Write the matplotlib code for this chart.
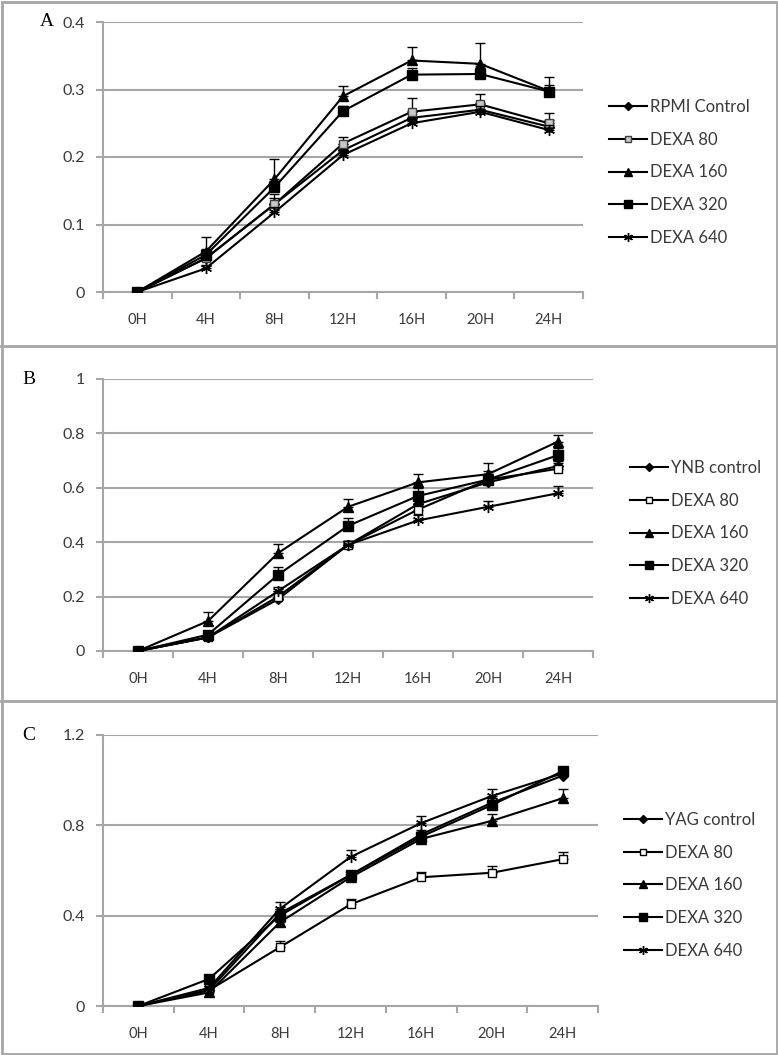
import matplotlib
matplotlib.use("Agg")
import matplotlib.pyplot as plt
from matplotlib.patches import Rectangle
from matplotlib.lines import Line2D
import numpy as np

hours = ["0H", "4H", "8H", "12H", "16H", "20H", "24H"]
series_names = ["DEXA 80", "DEXA 160", "DEXA 320", "DEXA 640"]

# Panel A (RPMI)
a_control = [0, 0.050, 0.130, 0.210, 0.258, 0.270, 0.245]
a_d80 = [0, 0.050, 0.130, 0.220, 0.267, 0.278, 0.250]
a_d160 = [0, 0.060, 0.167, 0.290, 0.343, 0.338, 0.298]
a_d320 = [0, 0.055, 0.155, 0.268, 0.322, 0.323, 0.297]
a_d640 = [0, 0.035, 0.118, 0.203, 0.250, 0.267, 0.240]
a_e_control = [0, 0.008, 0.010, 0.010, 0.010, 0.010, 0.010]
a_e_d80 = [0, 0.010, 0.015, 0.010, 0.020, 0.015, 0.015]
a_e_d160 = [0, 0.022, 0.030, 0.015, 0.020, 0.031, 0.020]
a_e_d320 = [0, 0.008, 0.010, 0.008, 0.010, 0.012, 0.010]
a_e_d640 = [0, 0.005, 0.008, 0.008, 0.008, 0.008, 0.008]

# Panel B (YNB)
b_control = [0, 0.050, 0.190, 0.390, 0.540, 0.620, 0.680]
b_d80 = [0, 0.050, 0.200, 0.390, 0.520, 0.630, 0.670]
b_d160 = [0, 0.110, 0.360, 0.530, 0.620, 0.650, 0.770]
b_d320 = [0, 0.060, 0.280, 0.460, 0.570, 0.630, 0.720]
b_d640 = [0, 0.050, 0.220, 0.390, 0.480, 0.530, 0.580]
b_e_control = [0, 0.010, 0.015, 0.015, 0.020, 0.020, 0.020]
b_e_d80 = [0, 0.010, 0.020, 0.015, 0.020, 0.020, 0.020]
b_e_d160 = [0, 0.035, 0.035, 0.030, 0.030, 0.040, 0.025]
b_e_d320 = [0, 0.010, 0.030, 0.030, 0.030, 0.030, 0.025]
b_e_d640 = [0, 0.010, 0.015, 0.015, 0.020, 0.020, 0.025]

# Panel C (YAG)
c_control = [0, 0.070, 0.410, 0.580, 0.760, 0.900, 1.020]
c_d80 = [0, 0.070, 0.260, 0.450, 0.570, 0.590, 0.650]
c_d160 = [0, 0.060, 0.370, 0.570, 0.740, 0.820, 0.920]
c_d320 = [0, 0.120, 0.400, 0.580, 0.750, 0.890, 1.040]
c_d640 = [0, 0.080, 0.430, 0.660, 0.810, 0.930, 1.030]
c_e_control = [0, 0.010, 0.020, 0.020, 0.020, 0.020, 0.020]
c_e_d80 = [0, 0.010, 0.030, 0.025, 0.025, 0.030, 0.030]
c_e_d160 = [0, 0.010, 0.020, 0.025, 0.030, 0.030, 0.040]
c_e_d320 = [0, 0.010, 0.020, 0.020, 0.020, 0.020, 0.020]
c_e_d640 = [0, 0.010, 0.030, 0.030, 0.030, 0.030, 0.025]

W, H = 778, 1055
fig = plt.figure(figsize=(W / 100, H / 100), dpi=100)
FONT = "Lato"
GRAY = "#a6a6a6"
TXT = "#3a3a3a"

# borders
fig.patches.append(Rectangle((1.5 / W, 1.5 / H), (W - 3) / W, (H - 3) / H,
                             transform=fig.transFigure, fill=False,
                             edgecolor=GRAY, linewidth=2))
for yb in [346, 701]:
    fig.add_artist(Line2D([0, 1], [1 - yb / H, 1 - yb / H], transform=fig.transFigure,
                          color=GRAY, linewidth=2))

star = (6, 2, 0)
styles = [
    dict(marker="D", mfc="black", mec="black", ms=5.5),
    dict(marker="s", mfc="white", mec="black", ms=6),
    dict(marker="^", mfc="black", mec="black", ms=7),
    dict(marker="s", mfc="black", mec="black", ms=7),
    dict(marker=star, mfc="black", mec="black", ms=8, mew=1.0),
]

panels = [
    dict(letter="A", letter_xy=(40, 22), box=(103, 583, 22, 292), ymax=0.4,
         yticks=[0, 0.1, 0.2, 0.3, 0.4], ylabels=["0", "0.1", "0.2", "0.3", "0.4"],
         ctrl="RPMI Control", data=[a_control, a_d80, a_d160, a_d320, a_d640],
         err=[a_e_control, a_e_d80, a_e_d160, a_e_d320, a_e_d640],
         d80fill="#c8c8c8", leg=(609, 104)),
    dict(letter="B", letter_xy=(22, 380), box=(103, 593, 379, 651), ymax=1.0,
         yticks=[0, 0.2, 0.4, 0.6, 0.8, 1.0], ylabels=["0", "0.2", "0.4", "0.6", "0.8", "1"],
         ctrl="YNB control", data=[b_control, b_d80, b_d160, b_d320, b_d640],
         err=[b_e_control, b_e_d80, b_e_d160, b_e_d320, b_e_d640],
         d80fill="white", leg=(630, 465)),
    dict(letter="C", letter_xy=(22, 736), box=(103, 598, 735, 1006), ymax=1.2,
         yticks=[0, 0.4, 0.8, 1.2], ylabels=["0", "0.4", "0.8", "1.2"],
         ctrl="YAG control", data=[c_control, c_d80, c_d160, c_d320, c_d640],
         err=[c_e_control, c_e_d80, c_e_d160, c_e_d320, c_e_d640],
         d80fill="white", leg=(624, 817)),
]

x = np.arange(len(hours))
for p in panels:
    l, r, t, b = p["box"]
    ax = fig.add_axes([l / W, 1 - b / H, (r - l) / W, (b - t) / H])
    ax.set_xlim(-0.5, len(hours) - 0.5)
    ax.set_ylim(0, p["ymax"])
    for s in ["top", "right"]:
        ax.spines[s].set_visible(False)
    for s in ["left", "bottom"]:
        ax.spines[s].set_color(GRAY)
        ax.spines[s].set_linewidth(1.5)
    ax.set_yticks(p["yticks"])
    ax.set_yticklabels(p["ylabels"], fontfamily=FONT, fontsize=11.5, color=TXT)
    ax.yaxis.grid(True, color=GRAY, linewidth=1.5)
    ax.set_axisbelow(True)
    ax.set_xticks(np.arange(len(hours) + 1) - 0.5)
    ax.set_xticklabels([])
    ax.set_xticks(x, minor=True)
    ax.set_xticklabels(hours, minor=True, fontfamily=FONT, fontsize=10.5, color=TXT)
    ax.tick_params(axis="x", which="minor", length=0, pad=15)
    ax.tick_params(axis="both", which="major", length=5, width=1.5, color=GRAY)
    ax.tick_params(axis="y", pad=8)

    labels = [p["ctrl"]] + series_names
    handles = []
    for i, (vals, errs) in enumerate(zip(p["data"], p["err"])):
        st = dict(styles[i])
        if i == 1:
            st["mfc"] = p["d80fill"]
            if p["letter"] == "A":
                st["mec"] = "#404040"
        yerr = [np.zeros(len(errs)), np.array(errs)]
        ax.errorbar(x, vals, yerr=yerr, color="black", lw=1.5, elinewidth=1.0,
                    capsize=3.5, capthick=1.0, zorder=3 + i, **st)
        hs = dict(st)
        hs["ms"] = st["ms"] * 0.8
        handles.append(Line2D([], [], color="black", lw=1.5, **hs))
    ax.text(p["letter_xy"][0] / W, 1 - p["letter_xy"][1] / H, p["letter"],
            transform=fig.transFigure, fontfamily="Liberation Serif", fontsize=14,
            ha="left", va="center", color="black")
    lx, ly = p["leg"]
    fig.legend(handles, labels, loc="upper left",
               bbox_to_anchor=(lx / W, 1 - (ly - 5) / H),
               frameon=False, prop=dict(family=FONT, size=12),
               labelcolor=TXT, handlelength=2.25, handletextpad=0.2,
               labelspacing=1.0, borderpad=0, borderaxespad=0)

fig.savefig("out.png", dpi=100)
